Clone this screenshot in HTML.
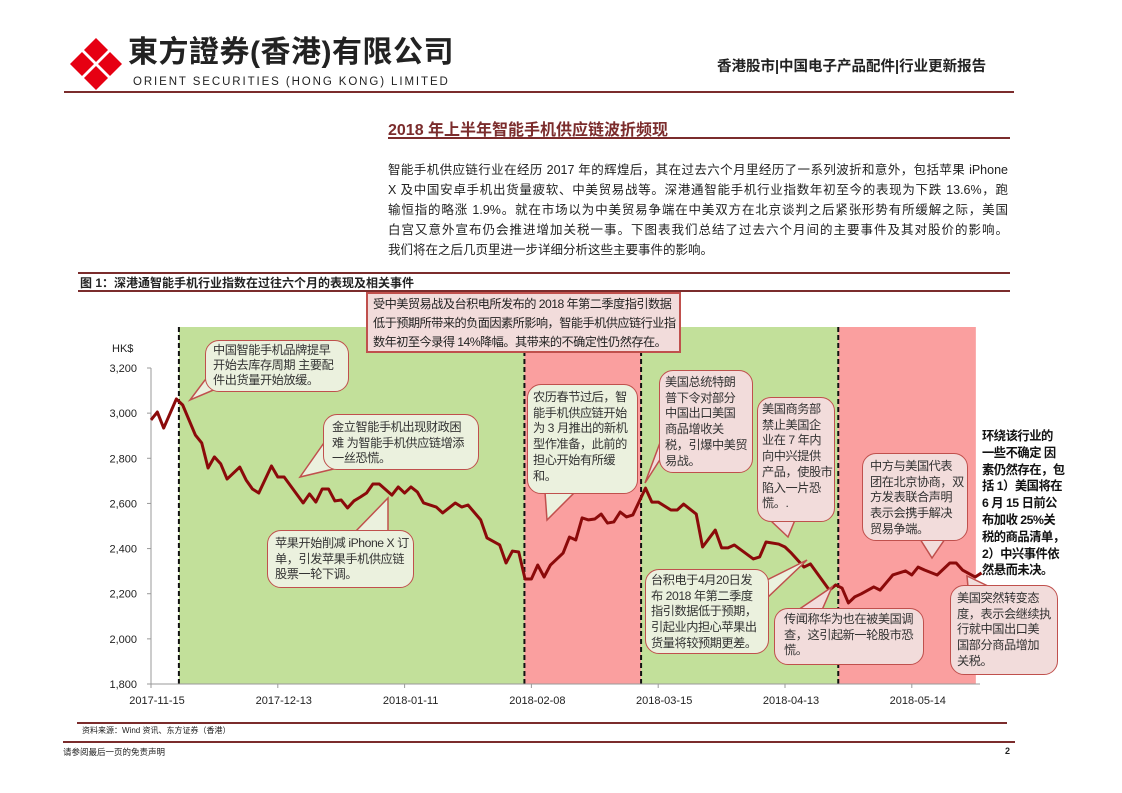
<!DOCTYPE html>
<html><head><meta charset="utf-8">
<style>
*{margin:0;padding:0;box-sizing:border-box}
body{width:1122px;height:793px;background:#fff;position:relative;overflow:hidden;font-family:"Liberation Sans","Noto Sans CJK SC",sans-serif;color:#222}
.abs{position:absolute}
.rule{position:absolute;background:#7b2c2c}
.para div{position:absolute;left:388px;width:620px;font-size:12.5px;line-height:20px;white-space:nowrap}
.co{position:absolute;font-size:12.2px;line-height:15.7px;padding:4px 7px;border:1.5px solid #c0504d;border-radius:14px;color:#333;z-index:3;white-space:nowrap;letter-spacing:-0.45px}
.cg{background:#ebf1de}
.cp{background:#f2dcdb}
svg{position:absolute;left:0;top:0}
</style></head><body>
<svg width="1122" height="793" id="chart"></svg>

<div class="abs" style="left:68px;top:36px;width:56px;height:56px">
<svg width="56" height="56" viewBox="0 0 56 56" style="position:static">
<polygon points="28,2 40,14 28,26 16,14" fill="#e60012"/><polygon points="2,28 14,16 26,28 14,40" fill="#e60012"/>
<polygon points="54,28 42,40 30,28 42,16" fill="#e60012"/><polygon points="28,54 16,42 28,30 40,42" fill="#e60012"/>
</svg></div>
<div class="abs" style="left:128px;top:35px;font-size:30px;line-height:36px;font-weight:bold;letter-spacing:0.5px;color:#222;white-space:nowrap">東方證券(香港)有限公司</div>
<div class="abs" style="left:133px;top:76px;font-size:11.5px;letter-spacing:1.9px;color:#222;white-space:nowrap">ORIENT SECURITIES (HONG KONG) LIMITED</div>
<div class="abs" style="left:717px;top:55px;font-size:14.5px;font-weight:bold;white-space:nowrap">香港股市|中国电子产品配件|行业更新报告</div>
<div class="rule" style="left:64px;top:91px;width:950px;height:2px"></div>

<div class="abs" style="left:388px;top:116px;font-size:16px;font-weight:bold;color:#7b2c2c;white-space:nowrap">2018 年上半年智能手机供应链波折频现</div>
<div class="rule" style="left:388px;top:137px;width:622px;height:2px"></div>

<div class="para">
<div style="top:160px;text-align:justify;text-align-last:justify">智能手机供应链行业在经历 2017 年的辉煌后，其在过去六个月里经历了一系列波折和意外，包括苹果 iPhone</div>
<div style="top:180px;text-align:justify;text-align-last:justify">X 及中国安卓手机出货量疲软、中美贸易战等。深港通智能手机行业指数年初至今的表现为下跌 13.6%，跑</div>
<div style="top:200px;text-align:justify;text-align-last:justify">输恒指的略涨 1.9%。就在市场以为中美贸易争端在中美双方在北京谈判之后紧张形势有所缓解之际，美国</div>
<div style="top:220px;text-align:justify;text-align-last:justify">白宫又意外宣布仍会推进增加关税一事。下图表我们总结了过去六个月间的主要事件及其对股价的影响。</div>
<div style="top:240px">我们将在之后几页里进一步详细分析这些主要事件的影响。</div>
</div>

<div class="rule" style="left:78px;top:272px;width:932px;height:2px"></div>
<div class="abs" style="left:80px;top:274px;font-size:12px;font-weight:bold;white-space:nowrap">图 1：深港通智能手机行业指数在过往六个月的表现及相关事件</div>
<div class="rule" style="left:78px;top:290px;width:932px;height:1.5px"></div>

<div class="abs" style="left:366px;top:292px;width:315px;height:61px;background:#f2dcdb;border:2px solid #c0504d;font-size:12.2px;letter-spacing:-0.55px;line-height:19px;padding:1px 5px;z-index:3;white-space:nowrap">受中美贸易战及台积电所发布的 2018 年第二季度指引数据<br>低于预期所带来的负面因素所影响，智能手机供应链行业指<br>数年初至今录得 14%降幅。其带来的不确定性仍然存在。</div>

<div class="co cg" style="left:205px;top:340px;width:144px;height:52px;line-height:15px;padding:2px 7px">中国智能手机品牌提早<br>开始去库存周期 主要配<br>件出货量开始放缓。</div>
<div class="co cg" style="left:323px;top:414px;width:156px;height:56px;padding:5px 8px">金立智能手机出现财政困<br>难 为智能手机供应链增添<br>一丝恐慌。</div>
<div class="co cg" style="left:267px;top:530px;width:147px;height:58px;padding:5px 7px">苹果开始削减 iPhone X 订<br>单，引发苹果手机供应链<br>股票一轮下调。</div>
<div class="co cg" style="left:527px;top:384px;width:111px;height:110px;padding:5px 5px">农历春节过后，智<br>能手机供应链开始<br>为 3 月推出的新机<br>型作准备，此前的<br>担心开始有所缓<br>和。</div>
<div class="co cp" style="left:659px;top:370px;width:94px;height:103px;padding:4px 5px">美国总统特朗<br>普下令对部分<br>中国出口美国<br>商品增收关<br>税，引爆中美贸<br>易战。</div>
<div class="co cp" style="left:757px;top:397px;width:78px;height:125px;padding:4px 4px">美国商务部<br>禁止美国企<br>业在 7 年内<br>向中兴提供<br>产品，使股市<br>陷入一片恐<br>慌。.</div>
<div class="co cg" style="left:645px;top:569px;width:124px;height:85px;padding:3px 5px">台积电于4月20日发<br>布 2018 年第二季度<br>指引数据低于预期，<br>引起业内担心苹果出<br>货量将较预期更差。</div>
<div class="co cp" style="left:774px;top:608px;width:150px;height:57px;padding:3px 9px">传闻称华为也在被美国调<br>查，这引起新一轮股市恐<br>慌。</div>
<div class="co cp" style="left:862px;top:453px;width:106px;height:88px;padding:5px 7px">中方与美国代表<br>团在北京协商，双<br>方发表联合声明<br>表示会携手解决<br>贸易争端。</div>
<div class="co cp" style="left:950px;top:585px;width:108px;height:90px;padding:5px 6px">美国突然转变态<br>度，表示会继续执<br>行就中国出口美<br>国部分商品增加<br>关税。</div>

<div class="abs" style="left:982px;top:428px;font-size:12.3px;font-weight:bold;line-height:16.8px;color:#111;white-space:nowrap;letter-spacing:-0.5px">环绕该行业的<br>一些不确定 因<br>素仍然存在，包<br>括 1）美国将在<br>6 月 15 日前公<br>布加收 25%关<br>税的商品清单，<br>2）中兴事件依<br>然悬而未决。</div>

<div class="rule" style="left:77px;top:722px;width:930px;height:2px"></div>
<div class="abs" style="left:82px;top:725px;font-size:8px;white-space:nowrap">资料来源：Wind 资讯、东方证券（香港）</div>
<div class="rule" style="left:63px;top:741px;width:952px;height:2px"></div>
<div class="abs" style="left:63px;top:746px;font-size:8.5px;white-space:nowrap">请参阅最后一页的免责声明</div>
<div class="abs" style="left:1005px;top:746px;font-size:9px;font-weight:bold">2</div>

<script>
const days = [0,1,2,4,5,7,8,9,10,11,12,14,15,16,17,19,20,21,24,25,26,27,28,29,30,31,32,33,34,35,36,38,39,40,41,42,43,45,46,48,49,50,52,53,55,56,57,58,59,60,61,62,63,65,66,67,68,69,70,71,72,73,74,75,76,78,79,80,82,83,84,86,87,89,90,91,92,95,96,97,99,100,101,103,104,107,108,109,110,111,112,114,115,117,119,120,121,122,124,126,127,128,130,131];
const values = [2970,3005,2934,3063,3036,2903,2868,2757,2806,2775,2708,2761,2704,2664,2646,2766,2717,2717,2602,2642,2606,2664,2664,2611,2615,2580,2611,2628,2646,2686,2686,2637,2673,2646,2673,2651,2602,2584,2558,2602,2584,2593,2527,2447,2416,2336,2389,2385,2265,2265,2327,2274,2327,2380,2451,2438,2536,2527,2531,2553,2513,2518,2562,2540,2549,2668,2606,2606,2571,2571,2597,2553,2407,2482,2403,2403,2416,2354,2363,2429,2420,2407,2380,2318,2332,2216,2239,2225,2159,2186,2199,2230,2216,2283,2301,2283,2318,2305,2283,2336,2336,2305,2274,2292];
const tickDays = [0,20,40,60,80,100,120];
const tickLabels = ["2017-11-15","2017-12-13","2018-01-11","2018-02-08","2018-03-15","2018-04-13","2018-05-14"];
const yTicks = [1800,2000,2200,2400,2600,2800,3000,3200];
const regionStarts = [4.4,58.9,77.3,108.4];
const regionEnds = [58.9,77.3,108.4,130.1];
const regionKinds = ["green","red","green","red"];

const NS="http://www.w3.org/2000/svg";
const svg=document.getElementById('chart');
const X0=151, DX=6.34, Y0=684, YTOP=368;
function x(d){return X0+d*DX;}
function y(v){return Y0-(v-1800)*(Y0-YTOP)/1400;}
function mk(tag,attrs,parent){const e=document.createElementNS(NS,tag);for(const k in attrs)e.setAttribute(k,attrs[k]);(parent||svg).appendChild(e);return e;}

regionStarts.forEach((s,i)=>{
  const r=mk('rect',{x:x(s),y:327,width:x(regionEnds[i])-x(s),height:Y0-327,fill:regionKinds[i]==='green'?'#c2e09a':'#fa9f9f'});
  
  
});
regionStarts.forEach(s=>{
  const l=mk('line',{x1:x(s),y1:327,x2:x(s),y2:Y0,stroke:'#111','stroke-width':2,'stroke-dasharray':'5,3'});
  
  
});
const ya=mk('line',{x1:X0,y1:YTOP,x2:X0,y2:Y0,stroke:'#999','stroke-width':1});


const xa=mk('line',{x1:X0,y1:Y0,x2:980,y2:Y0,stroke:'#999','stroke-width':1});


yTicks.forEach(v=>{
  mk('line',{x1:X0-4,y1:y(v),x2:X0,y2:y(v),stroke:'#999'});
  const t=mk('text',{x:137,y:y(v)+4,'text-anchor':'end','font-size':11,'font-family':'Liberation Sans, sans-serif',fill:'#222'});
  t.textContent=v.toLocaleString('en-US');
  
  
});
const yt=mk('text',{x:112,y:352,'font-size':11,'font-family':'Liberation Sans, sans-serif',fill:'#222'});
yt.textContent='HK$';


tickDays.forEach((d,i)=>{
  mk('line',{x1:x(d),y1:Y0,x2:x(d),y2:Y0+4,stroke:'#999'});
  const t=mk('text',{x:x(d)+6,y:704,'text-anchor':'middle','font-size':11,'font-family':'Liberation Sans, sans-serif',fill:'#222'});
  t.textContent=tickLabels[i];
  
  
});
const tails=[
 [[205,380],[230,383],[190,400],'#ebf1de'],
 [[326,440],[346,466],[300,477],'#ebf1de'],
 [[355,532],[388,532],[388,498],'#ebf1de'],
 [[545,492],[575,492],[547,520],'#ebf1de'],
 [[661,440],[661,458],[645,483],'#f2dcdb'],
 [[770,520],[795,520],[788,537],'#f2dcdb'],
 [[767,580],[767,598],[807,560],'#ebf1de'],
 [[798,610],[822,610],[832,587],'#f2dcdb'],
 [[920,539],[945,539],[932,558],'#f2dcdb'],
 [[968,587],[990,587],[967,576],'#f2dcdb']
];
const path=mk('polyline',{points:days.map((d,i)=>x(d)+','+y(values[i])).join(' '),fill:'none',stroke:'#8b0a0a','stroke-width':3,'stroke-linejoin':'round'});


tails.forEach(t=>{
  const p=mk('polygon',{points:t.slice(0,3).map(q=>q.join(',')).join(' '),fill:t[3],stroke:'#c0504d','stroke-width':1.5});
  
  
});
</script>
</body></html>
